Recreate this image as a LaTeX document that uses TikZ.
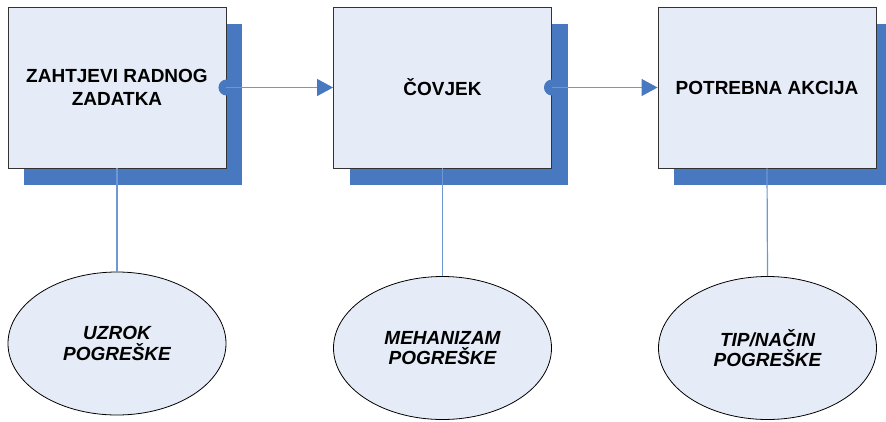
\documentclass[tikz,border=0pt]{standalone}
\usepackage{fontspec}
\setmainfont{Liberation Sans}
\usetikzlibrary{shadows,arrows.meta,shapes.geometric}
\definecolor{boxfill}{HTML}{E6ECF7}
\definecolor{shadowblue}{HTML}{4878C0}
\definecolor{linkblue}{HTML}{6E98D4}
\tikzset{
  stepbox/.style={draw=black!80, line width=0.9pt, fill=boxfill,
    minimum width=218pt, minimum height=161pt, inner sep=0pt, align=center,
    font=\bfseries\fontsize{19}{23}\selectfont,
    drop shadow={shadow xshift=16pt, shadow yshift=-16.5pt, fill=shadowblue, opacity=1}},
  errell/.style={ellipse, draw=black, line width=0.8pt, fill=boxfill,
    minimum width=218pt, minimum height=143pt, inner sep=0pt, align=center,
    font=\bfseries\itshape\fontsize{19}{20.5}\selectfont},
  link/.style={draw=linkblue, line width=1.2pt},
  arrowlink/.style={link, -{Triangle[length=16pt,width=17pt,color=shadowblue]}},
  dot/.style={fill=shadowblue}
}
\begin{document}
\begin{tikzpicture}[x=1pt,y=-1pt]
\useasboundingbox (0,0) rectangle (886,421);
\begin{scope}
\clip (0,0) rectangle (886,421);
\node[stepbox] (b1) at (117,87.5) {ZAHTJEVI RADNOG\\ZADATKA};
\node[stepbox] (b2) at (442.5,87.5) {ČOVJEK};
\node[stepbox] (b3) at (767,87.5) {POTREBNA AKCIJA};
\end{scope}
\node[errell] (e1) at (117,343.5) {UZROK\\POGREŠKE};
\node[errell] (e2) at (442.5,348) {MEHANIZAM\\POGREŠKE};
\node[errell] (e3) at (767.5,348) {TIP/NAČIN\\POGREŠKE};
\fill[dot] (b1.east) circle (8pt);
\fill[dot] (b2.east) circle (8pt);
\draw[arrowlink] (b1.east) -- (b2.west);
\draw[arrowlink] (b2.east) -- (b3.west);
\draw[link] (b1.south) -- (e1.north);
\draw[link] (b2.south) -- (e2.north);
\draw[link] (b3.south) -- (e3.north);
\end{tikzpicture}
\end{document}
